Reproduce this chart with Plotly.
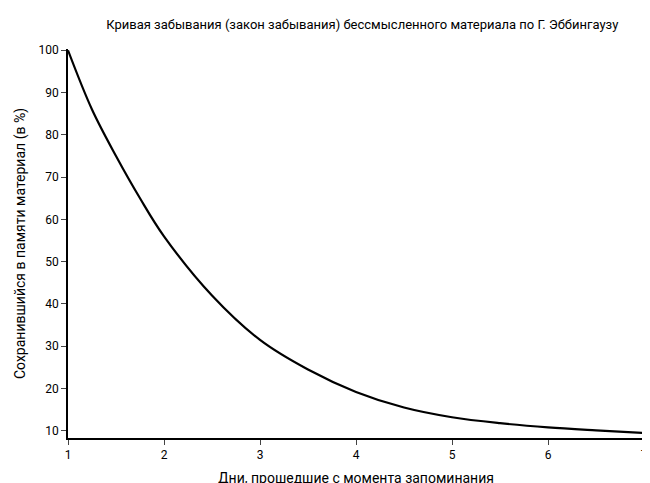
import plotly.graph_objects as go

days = [1, 1.25, 1.5, 1.75, 2, 2.5, 3, 3.5, 4, 4.5, 5, 5.5, 6, 6.5, 7]
retained = [100, 86, 75, 65, 56, 42, 31.5, 24.5, 19.2, 15.5, 13.2, 11.8, 10.8, 10.1, 9.5]
yticks = [10, 20, 30, 40, 50, 60, 70, 80, 90, 100]
xticks = [1, 2, 3, 4, 5, 6, 7]

fig = go.Figure(go.Scatter(x=days, y=retained, mode="lines",
                           line=dict(color="black", width=2.2, shape="spline", smoothing=1.0)))
fig.update_layout(
    width=650, height=483, plot_bgcolor="white", paper_bgcolor="white",
    margin=dict(l=60, r=14, t=41, b=53, autoexpand=False), showlegend=False,
    font=dict(family="Roboto", size=12, color="black"),
    title=dict(text="Кривая забывания (закон забывания) бессмысленного материала по Г. Эббингаузу",
               x=0.545, y=0.975, xanchor="center", font=dict(size=13)),
)
fig.update_xaxes(range=[1, 7], tickvals=xticks, showgrid=False, showline=True, linecolor="black",
                 linewidth=1.5, ticks="outside", ticklen=5, zeroline=False, automargin=False,
                 title=dict(text="Дни, прошедшие с момента запоминания", standoff=12))
fig.update_yaxes(range=[8.3, 100.3], tickvals=yticks, showgrid=False, showline=True, linecolor="black",
                 linewidth=1.5, ticks="outside", ticklen=5, zeroline=False, automargin=False,
                 title=dict(text="Сохранившийся в памяти материал (в %)", standoff=10))
fig.write_html("out.html")
